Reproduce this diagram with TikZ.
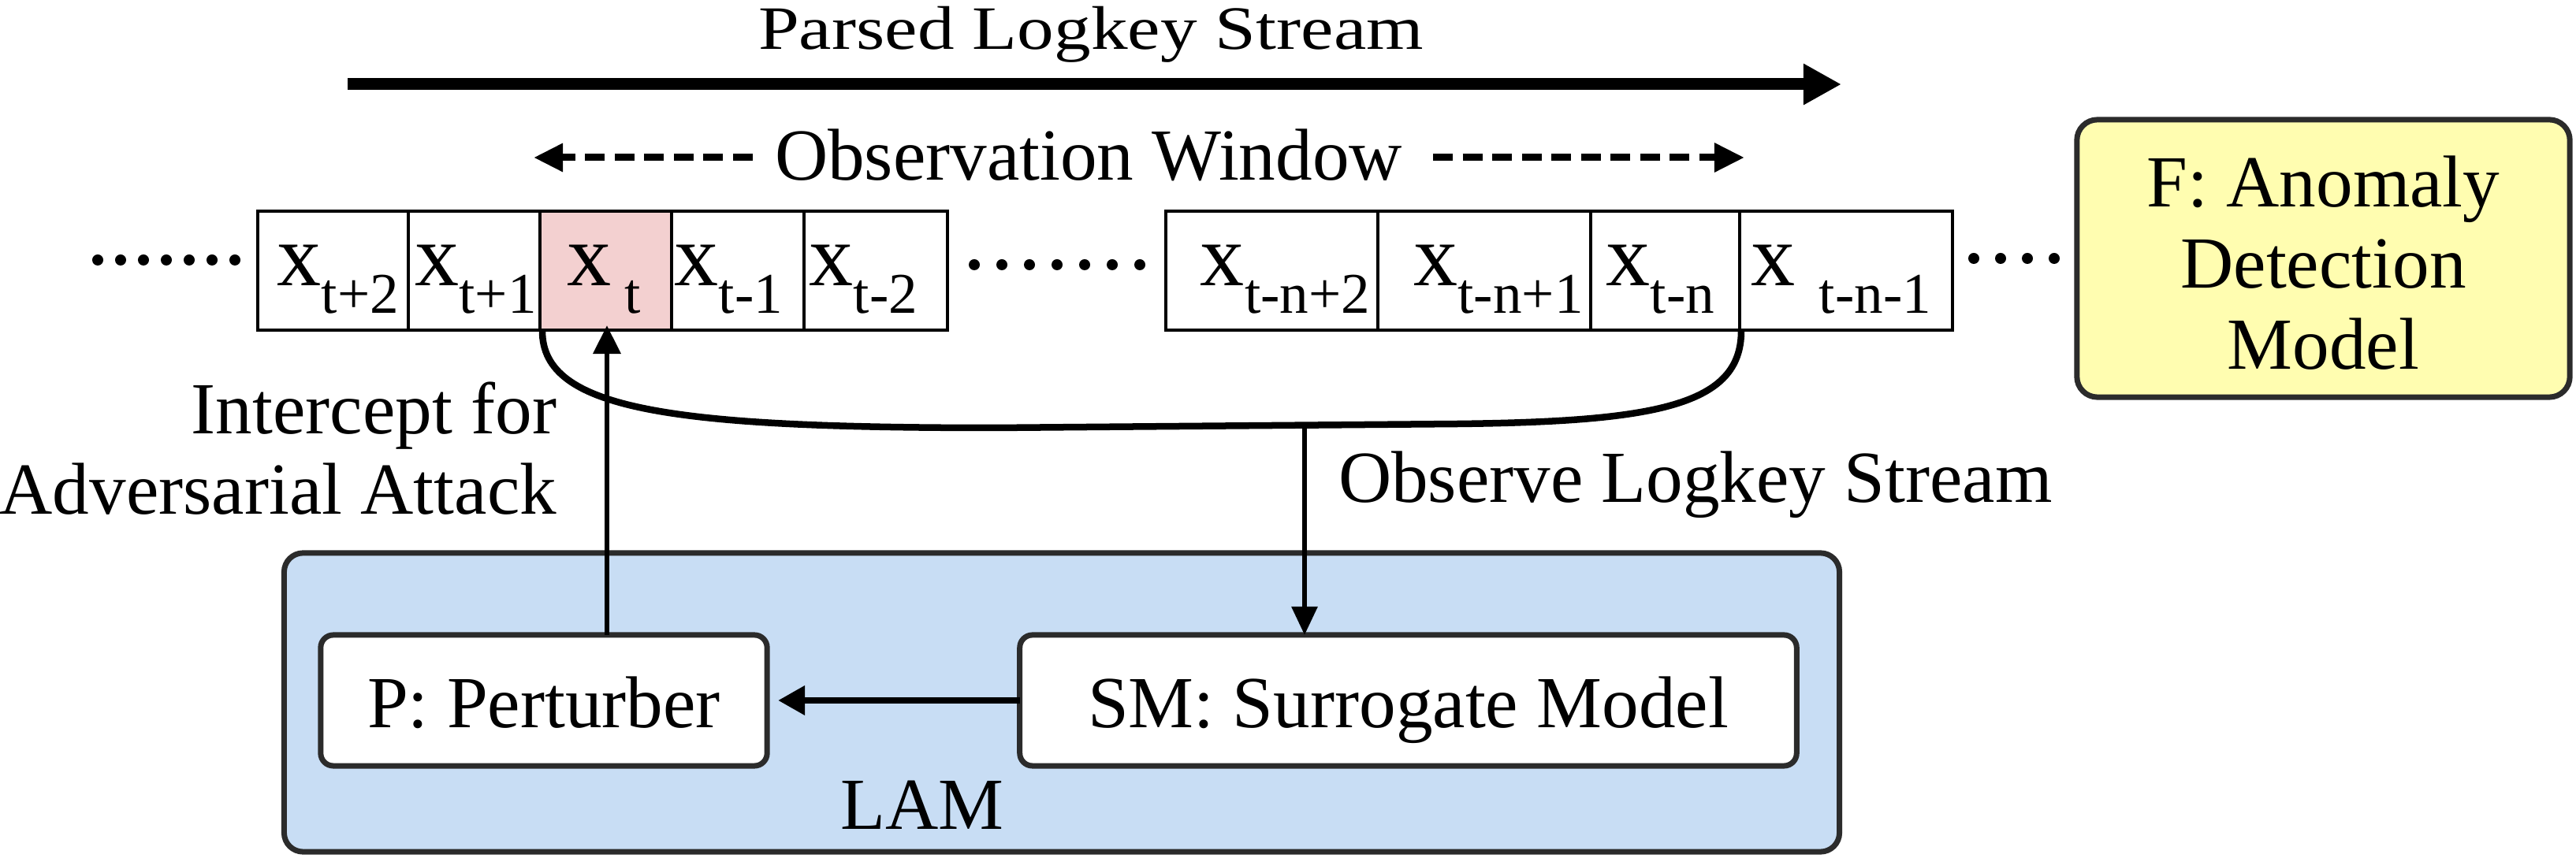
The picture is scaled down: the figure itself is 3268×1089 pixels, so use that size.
\documentclass[tikz,border=0pt]{standalone}
\usepackage{fontspec}
\setmainfont{Liberation Serif}
\usetikzlibrary{arrows.meta}
\definecolor{lamblue}{HTML}{C8DDF4}
\definecolor{fyellow}{HTML}{FFFDB0}
\definecolor{xpink}{HTML}{F3D0D0}
\definecolor{bord}{HTML}{2B2B2B}
\newcommand\txt{\fontsize{26.5pt}{29.3pt}\selectfont}
\newcommand\xsub[1]{{\fontsize{31.9pt}{32pt}\selectfont x}\raisebox{-0.34cm}{\fontsize{20.8pt}{21pt}\selectfont #1}}
\begin{document}
\begin{tikzpicture}[x=0.01cm, y=-0.01cm,
  every node/.style={inner sep=0pt, outer sep=0pt, font=\txt},
  cell/.style={draw=black, line width=0.035cm, minimum height=1.51cm, anchor=center},
  rbox/.style={draw=bord, line width=0.07cm, anchor=center},
  lbl/.style={anchor=base},
  dotc/.style={fill=black}]
\useasboundingbox (0,0) rectangle (3268,1089);

% LAM container
\node[rbox, fill=lamblue, rounded corners=0.24cm, minimum width=19.72cm, minimum height=3.79cm] (lam) at (1347,891.5) {};
\node[lbl] (lamtext) at (1170,1053) {LAM};

% P and SM boxes
\node[rbox, fill=white, rounded corners=0.16cm, minimum width=5.66cm, minimum height=1.66cm, text height=0.68cm, text depth=0cm] (p) at (690,889) {P: Perturber};
\node[rbox, fill=white, rounded corners=0.16cm, minimum width=9.85cm, minimum height=1.66cm, text height=0.68cm, text depth=0cm] (sm) at (1786.5,889) {SM: Surrogate Model};

% F box
\node[rbox, fill=fyellow, rounded corners=0.26cm, minimum width=6.25cm, minimum height=3.52cm] (fbox) at (2947.5,328) {};
\node[align=center, yshift=-0.055cm, font=\fontsize{26.5pt}{29.3pt}\selectfont] (ftext) at (fbox.center) {F: Anomaly\\Detection\\Model};

% title and arrow
\node[lbl] (title) at (1384,63) {\scalebox{1}[0.84]{Parsed Logkey Stream}};
\coordinate (ps) at (441,107);
\coordinate (pe) at (2336,107);
\draw[line width=0.15cm, -{Triangle[length=0.48cm,width=0.49cm]}] (ps) -- (pe);

% observation window
\node[lbl] (ow) at (1381,229) {Observation Window};
\coordinate (owl1) at (955,200);
\coordinate (owl2) at (677,200);
\coordinate (owr1) at (1818,200);
\coordinate (owr2) at (2213,200);
\draw[line width=0.09cm, dash pattern=on 0.25cm off 0.125cm, -{Triangle[length=0.37cm,width=0.34cm]}] (owl1) -- (owl2);
\draw[line width=0.09cm, dash pattern=on 0.25cm off 0.125cm, -{Triangle[length=0.38cm,width=0.35cm]}] (owr1) -- (owr2);

% cells
\node[cell, minimum width=1.91cm] (c1) at (422.5,343.5) {};
\node[cell, minimum width=1.67cm] (c2) at (601.5,343.5) {};
\node[cell, minimum width=1.67cm, fill=xpink] (c3) at (768.5,343.5) {};
\node[cell, minimum width=1.68cm] (c4) at (936,343.5) {};
\node[cell, minimum width=1.82cm] (c5) at (1111,343.5) {};
\node[cell, minimum width=2.69cm] (c6) at (1613.5,343.5) {};
\node[cell, minimum width=2.70cm] (c7) at (1883,343.5) {};
\node[cell, minimum width=1.89cm] (c8) at (2112.5,343.5) {};
\node[cell, minimum width=2.70cm] (c9) at (2342,343.5) {};

\node[lbl] (l1) at (429,363) {\xsub{t+2}};
\node[lbl] (l2) at (603.5,363) {\xsub{t+1}};
\node[lbl] (l3) at (766,363) {{\fontsize{31.9pt}{32pt}\selectfont x}\hspace{0.17cm}\raisebox{-0.34cm}{\fontsize{20.8pt}{21pt}\selectfont t}};
\node[lbl] (l4) at (924.5,363) {\xsub{t-1}};
\node[lbl] (l5) at (1095.5,363) {\xsub{t-2}};
\node[lbl] (l6) at (1630.5,363) {\xsub{t-n+2}};
\node[lbl] (l7) at (1901,363) {\xsub{t-n+1}};
\node[lbl] (l8) at (2106.5,363) {\xsub{t-n}};
\node[lbl] (l9) at (2336,363) {{\fontsize{31.9pt}{32pt}\selectfont x}\hspace{0.3cm}\raisebox{-0.34cm}{\fontsize{20.8pt}{21pt}\selectfont t-n-1}};

% dots
\foreach \i in {0,...,6} \fill[dotc] (124+29*\i,330) circle (0.07cm);
\foreach \i in {0,...,6} \fill[dotc] (1236+35*\i,336) circle (0.07cm);
\foreach \i in {0,...,3} \fill[dotc] (2504+34*\i,328) circle (0.07cm);

% bracket under window
\coordinate (bl) at (688,420);
\coordinate (br) at (2209,420);
\coordinate (obs) at (1655,540);
\draw[line width=0.085cm] (bl) .. controls (688,520) and (850,543) .. (1262,543) -- (1850,538) .. controls (2100,535) and (2209,515) .. (br);

% observe arrow to SM
\draw[line width=0.06cm, -{Triangle[length=0.36cm,width=0.32cm]}] (obs) -- (obs |- sm.north);
\node[anchor=base west] (obst) at (1698,638) {Observe Logkey Stream};

% intercept arrow
\coordinate (pa) at (770,806);
\coordinate (pt) at (770,413);
\draw[line width=0.065cm, -{Triangle[length=0.36cm,width=0.34cm]}] (pa) -- (pt);
\node[anchor=base east] (int1) at (706,551) {Intercept for};
\node[anchor=base east] (int2) at (706,653) {Adversarial Attack};

% SM -> P
\draw[line width=0.075cm, shorten >=0.14cm, -{Triangle[length=0.34cm,width=0.36cm]}] (sm.west) -- (p.east);
\end{tikzpicture}
\end{document}
